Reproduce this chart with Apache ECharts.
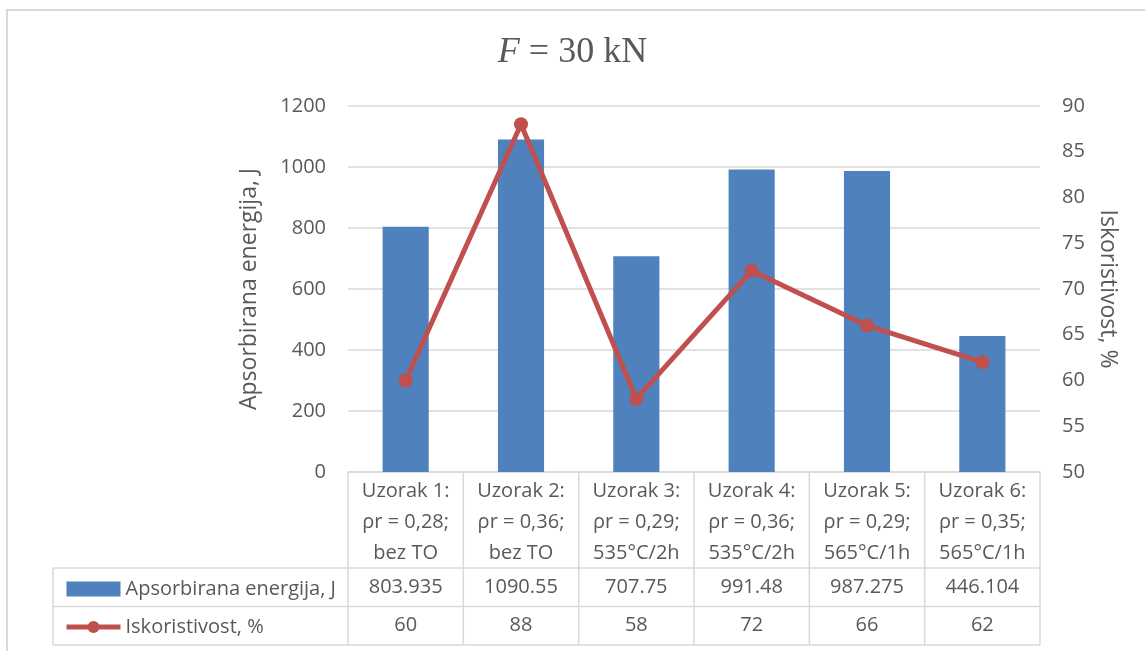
<!DOCTYPE html>
<html>
<head>
<meta charset="utf-8">
<script src="https://cdn.jsdelivr.net/npm/echarts@6/dist/echarts.min.js"></script>
<style>
html,body{margin:0;padding:0;background:#fff;}
#main{width:1145px;height:651px;}
</style>
</head>
<body>
<div id="main"></div>
<script>
// ---- data ----
const categories = [
  'Uzorak 1:\nρr = 0,28;\nbez TO',
  'Uzorak 2:\nρr = 0,36;\nbez TO',
  'Uzorak 3:\nρr = 0,29;\n535°C/2h',
  'Uzorak 4:\nρr = 0,36;\n535°C/2h',
  'Uzorak 5:\nρr = 0,29;\n565°C/1h',
  'Uzorak 6:\nρr = 0,35;\n565°C/1h'
];
const energyName = 'Apsorbirana energija, J';
const efficiencyName = 'Iskoristivost, %';
const energyValues = [803.935, 1090.55, 707.75, 991.48, 987.275, 446.104];
const efficiencyValues = [60, 88, 58, 72, 66, 62];
const energyTicks = {min: 0, max: 1200, interval: 200};
const efficiencyTicks = {min: 50, max: 90, interval: 5};

// ---- styles ----
const TXT = '#595959';
const LINEC = '#d9d9d9';
const FONT = 'Open Sans';
const BLUE = '#4f81bd';
const RED = '#c0504d';
const FS = 20;

const chart = echarts.init(document.getElementById('main'));
const option = {
  animation: false,
  backgroundColor: '#fff',
  title: {
    text: '{i|F} = 30 kN',
    left: 'center',
    top: 30,
    textStyle: {
      fontFamily: 'Liberation Serif', fontSize: 36, fontWeight: 'normal', color: TXT,
      rich: {i: {fontFamily: 'Liberation Serif', fontSize: 36, fontStyle: 'italic', color: TXT}}
    }
  },
  grid: {left: 348, right: 105, top: 106, bottom: 179, containLabel: false},
  xAxis: {
    type: 'category',
    data: categories,
    axisLine: {show: true, lineStyle: {color: LINEC, width: 1.5}},
    axisTick: {show: false},
    axisLabel: {show: false}
  },
  yAxis: [
    {
      type: 'value', min: energyTicks.min, max: energyTicks.max, interval: energyTicks.interval,
      name: energyName, nameLocation: 'middle', nameGap: 87,
      nameTextStyle: {color: TXT, fontFamily: FONT, fontSize: 23},
      axisLine: {show: false}, axisTick: {show: false},
      axisLabel: {color: TXT, fontFamily: FONT, fontSize: FS, margin: 22, formatter: v => String(v)},
      splitLine: {lineStyle: {color: LINEC, width: 1.5}}
    },
    {
      type: 'value', min: efficiencyTicks.min, max: efficiencyTicks.max, interval: efficiencyTicks.interval,
      name: efficiencyName, nameLocation: 'middle', nameGap: 56, nameRotate: -90,
      nameTextStyle: {color: TXT, fontFamily: FONT, fontSize: 23},
      axisLine: {show: false}, axisTick: {show: false},
      axisLabel: {color: TXT, fontFamily: FONT, fontSize: FS, margin: 22, formatter: v => String(v)},
      splitLine: {show: false}
    }
  ],
  legend: {
    orient: 'vertical',
    left: 59,
    top: 573,
    itemWidth: 54,
    itemHeight: 15,
    itemGap: 16,
    lineStyle: {width: 5},
    textStyle: {color: TXT, fontFamily: FONT, fontSize: FS, lineHeight: 22},
    data: [{name: energyName, icon: 'rect'}, {name: efficiencyName}]
  },
  series: [
    {
      name: energyName, type: 'bar', data: energyValues, barWidth: '40%',
      itemStyle: {color: BLUE}, yAxisIndex: 0
    },
    {
      name: efficiencyName, type: 'line', data: efficiencyValues, yAxisIndex: 1,
      symbol: 'circle', symbolSize: 14,
      lineStyle: {color: RED, width: 5}, itemStyle: {color: RED}, z: 5
    }
  ]
};
chart.setOption(option);

// ---- data table below the plot ----
const xs = categories.map((c, i) => chart.convertToPixel({xAxisIndex: 0}, i));
const bw = xs[1] - xs[0];
const left = xs[0] - bw / 2;
const right = xs[xs.length - 1] + bw / 2;
const y0 = chart.convertToPixel({yAxisIndex: 0}, 0);
const rowCat = 96, rowH = 38.5;
const y1 = y0 + rowCat, y2 = y1 + rowH, y3 = y2 + rowH;
const legendLeft = 53;
const els = [];
const ls = {stroke: LINEC, lineWidth: 1.5};
function line(x1, ya, x2, yb) { els.push({type: 'line', shape: {x1: x1, y1: ya, x2: x2, y2: yb}, style: ls, silent: true}); }
for (let i = 0; i <= categories.length; i++) {
  const x = left + i * bw;
  line(x, y0, x, y3);
}
line(legendLeft, y1, right, y1);
line(legendLeft, y2, right, y2);
line(legendLeft, y3, right, y3);
line(legendLeft, y1, legendLeft, y3);
const tstyle = {fill: TXT, font: FS + 'px "' + FONT + '"', align: 'center', verticalAlign: 'middle'};
categories.forEach((c, i) => {
  els.push({type: 'text', x: xs[i], y: (y0 + y1) / 2 + 2, style: Object.assign({text: c, lineHeight: 31}, tstyle), silent: true});
  els.push({type: 'text', x: xs[i], y: (y1 + y2) / 2, style: Object.assign({text: String(energyValues[i])}, tstyle), silent: true});
  els.push({type: 'text', x: xs[i], y: (y2 + y3) / 2, style: Object.assign({text: String(efficiencyValues[i])}, tstyle), silent: true});
});
// outer chart border
els.push({type: 'polyline', shape: {points: [[7, 651], [7, 10], [1145, 10]]}, style: {stroke: LINEC, lineWidth: 2, fill: null}, silent: true});
chart.setOption({graphic: {elements: els}});
</script>
</body>
</html>
